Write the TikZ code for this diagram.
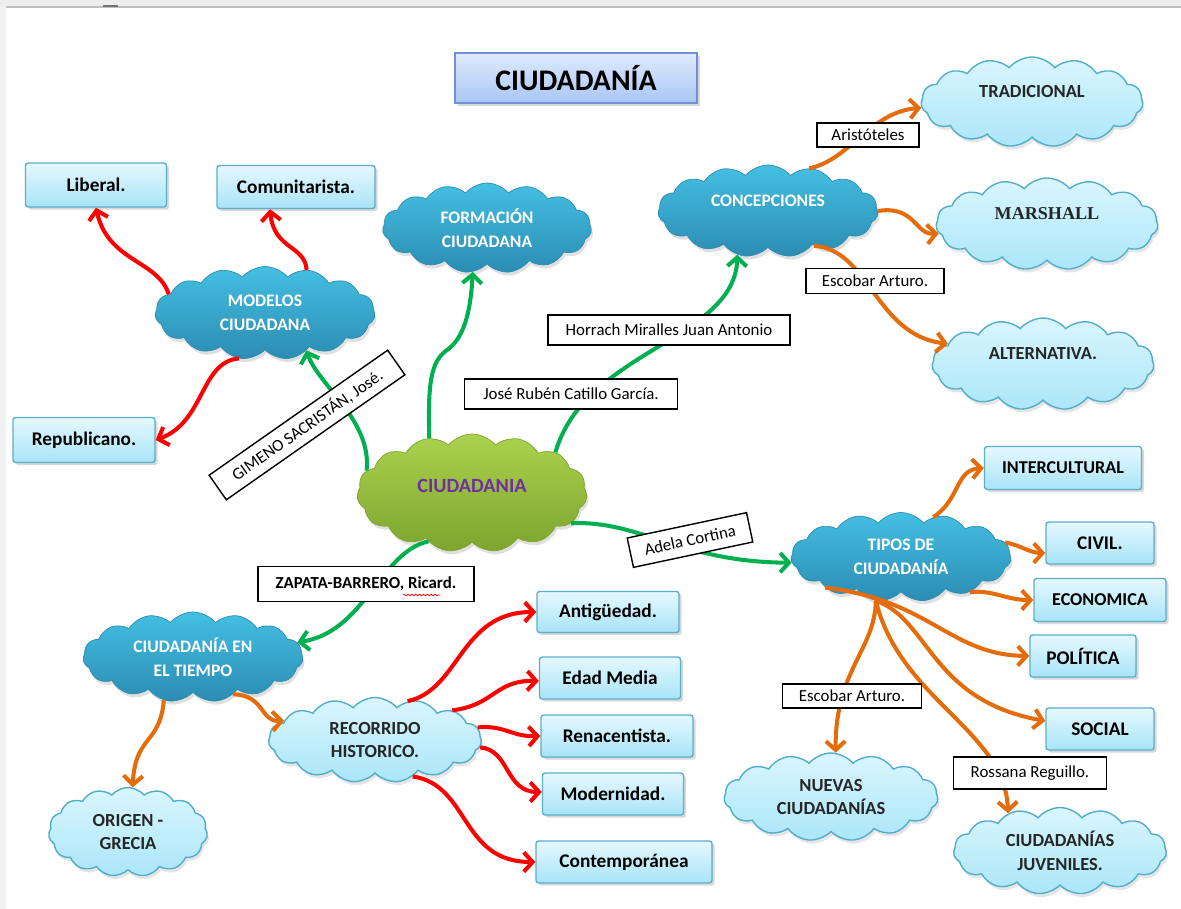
\documentclass[tikz,border=0pt]{standalone}
\usepackage{fontspec}
\setmainfont{Carlito}
\newfontfamily\serifb{Liberation Serif}
\usetikzlibrary{shapes.symbols,shadows,arrows.meta,calc,decorations.pathmorphing}
\definecolor{dcTop}{HTML}{44BFE2}
\definecolor{dcBot}{HTML}{2C8CB2}
\definecolor{lcTop}{HTML}{DAF6FE}
\definecolor{lcBot}{HTML}{ABE6F8}
\definecolor{lcDraw}{HTML}{52AECB}
\definecolor{rTop}{HTML}{E6F8FF}
\definecolor{rBot}{HTML}{A8E4F8}
\definecolor{rDraw}{HTML}{5AAFCB}
\definecolor{gTop}{HTML}{ABD24E}
\definecolor{gBot}{HTML}{7DA42E}
\definecolor{gText}{HTML}{7030A0}
\definecolor{tTop}{HTML}{DFEAFE}
\definecolor{tBot}{HTML}{A9C6F6}
\definecolor{tDraw}{HTML}{6F8FD6}
\definecolor{cGreen}{HTML}{00B050}
\definecolor{cRed}{HTML}{FF0000}
\definecolor{cOrange}{HTML}{E46C0A}
\begin{document}
\begin{tikzpicture}[x=0.02cm,y=-0.02cm,
  rectbox/.style={rectangle, rounded corners=1.5pt, draw=rDraw, line width=0.8pt,
    top color=rTop, bottom color=rBot, inner sep=0pt,
    font=\fontsize{11}{13}\selectfont\bfseries,
    drop shadow={shadow xshift=1.5pt, shadow yshift=-1.5pt, opacity=0.3}},
  cloudbase/.style={cloud, cloud puffs=15, cloud puff arc=100, cloud ignores aspect, inner sep=0pt,
    align=center},
  darkcloud/.style={cloudbase,
    top color=dcTop, bottom color=dcBot, draw=dcBot, line width=0.4pt,
    text=white, font=\fontsize{10}{13.5}\selectfont\bfseries,
    drop shadow={shadow xshift=1pt, shadow yshift=-2pt, opacity=0.25}},
  lightcloud/.style={cloudbase,
    top color=lcTop, bottom color=lcBot, draw=lcDraw, line width=0.8pt,
    text=black!85, font=\fontsize{10.5}{13.5}\selectfont\bfseries,
    drop shadow={shadow xshift=1pt, shadow yshift=-2pt, opacity=0.2}},
  greencloud/.style={cloudbase,
    top color=gTop, bottom color=gBot, draw=gBot, line width=0.4pt,
    text=gText, font=\fontsize{11.5}{13}\selectfont\bfseries,
    drop shadow={shadow xshift=1pt, shadow yshift=-2pt, opacity=0.25}},
  raisedtext/.style={text depth=12pt},
  labelbox/.style={rectangle, draw=black, line width=0.8pt, fill=white, inner sep=0pt,
    font=\fontsize{9.6}{11}\selectfont},
  conn/.style={line width=2.3pt, -{Straight Barb[length=5pt,width=11pt]}},
  gconn/.style={conn, draw=cGreen},
  rconn/.style={conn, draw=cRed},
  oconn/.style={conn, draw=cOrange}]
\useasboundingbox (0,0) rectangle (1181,909);
\fill[white] (0,0) rectangle (1181,909);
\fill[black!7] (0,0) rectangle (1181,7);
\fill[black!5] (0,7) rectangle (6,909);
\draw[black!25, line width=0.6pt] (6,7) -- (1181,7);
\fill[black!55] (103,5) rectangle (118,7);

% title
\node[rectangle, draw=tDraw, line width=0.8pt, top color=tTop, bottom color=tBot,
  minimum width=4.84cm, minimum height=1cm, font=\fontsize{17}{20}\selectfont\bfseries,
  drop shadow={shadow xshift=1.5pt, shadow yshift=-1.5pt, opacity=0.3}]
  (title) at (576,78) {CIUDADANÍA};

% clouds
\node[greencloud, minimum width=4.6cm, minimum height=2.36cm, text depth=8pt] (ciud) at (472,493) {CIUDADANIA};
\node[darkcloud, minimum width=4.4cm, minimum height=1.86cm] (modelos) at (265,313) {MODELOS\\CIUDADANA};
\node[darkcloud, minimum width=4.18cm, minimum height=1.8cm] (formacion) at (487,228) {FORMACIÓN\\CIUDADANA};
\node[darkcloud, raisedtext, minimum width=4.4cm, minimum height=1.84cm] (conc) at (768,211) {CONCEPCIONES};
\node[lightcloud, raisedtext, minimum width=4.44cm, minimum height=1.8cm] (trad) at (1032,102) {TRADICIONAL};
\node[lightcloud, raisedtext, minimum width=4.44cm, minimum height=1.84cm, font=\fontsize{10.3}{12}\selectfont\serifb\bfseries] (marshall) at (1047,224) {MARSHALL};
\node[lightcloud, raisedtext, minimum width=4.44cm, minimum height=1.84cm] (altern) at (1043,364) {ALTERNATIVA.};
\node[darkcloud, minimum width=4.4cm, minimum height=1.78cm] (tipos) at (901,557) {TIPOS DE\\CIUDADANÍA};
\node[lightcloud, minimum width=4.28cm, minimum height=1.76cm] (nuevas) at (831,797) {NUEVAS\\CIUDADANÍAS};
\node[lightcloud, minimum width=4.26cm, minimum height=1.74cm] (juven) at (1060,851) {CIUDADANÍAS\\JUVENILES.};
\node[darkcloud, minimum width=4.4cm, minimum height=1.8cm] (tiempo) at (193,657) {CIUDADANÍA EN\\EL TIEMPO};
\node[lightcloud, minimum width=3.18cm, minimum height=1.78cm] (origen) at (128,832) {ORIGEN -\\GRECIA};
\node[lightcloud, minimum width=4.26cm, minimum height=1.7cm] (recorrido) at (375,740) {RECORRIDO\\HISTORICO.};

% boxes
\node[rectbox, minimum width=2.82cm, minimum height=0.88cm] (liberal) at (96,185) {Liberal.};
\node[rectbox, minimum width=3.16cm, minimum height=0.86cm] (comunitarista) at (296,187) {Comunitarista.};
\node[rectbox, minimum width=2.84cm, minimum height=0.9cm] (republicano) at (84,440) {Republicano.};
\node[rectbox, minimum width=3.14cm, minimum height=0.86cm, font=\fontsize{10.3}{12}\selectfont\bfseries] (intercultural) at (1063,468) {INTERCULTURAL};
\node[rectbox, minimum width=2.16cm, minimum height=0.84cm] (civil) at (1100,543) {CIVIL.};
\node[rectbox, minimum width=2.64cm, minimum height=0.86cm, font=\fontsize{10.3}{12}\selectfont\bfseries] (economica) at (1100,600) {ECONOMICA};
\node[rectbox, minimum width=2.12cm, minimum height=0.84cm] (politica) at (1083,656) {POLÍTICA};
\node[rectbox, minimum width=2.16cm, minimum height=0.84cm] (social) at (1100,729) {SOCIAL};
\node[rectbox, minimum width=2.84cm, minimum height=0.82cm] (antig) at (608,612) {Antigüedad.};
\node[rectbox, minimum width=2.82cm, minimum height=0.84cm] (edad) at (610,678) {Edad Media};
\node[rectbox, minimum width=3.04cm, minimum height=0.84cm] (renac) at (617,736) {Renacentista.};
\node[rectbox, minimum width=2.82cm, minimum height=0.84cm] (modern) at (613,794) {Modernidad.};
\node[rectbox, minimum width=3.52cm, minimum height=0.84cm] (contemp) at (624,862) {Contemporánea};

% green connectors
\draw[gconn] (ciud.168) .. controls (372,420) and (318,385) .. (modelos.-42);
\draw[gconn] (ciud.128) .. controls (428,385) and (430,362) .. (447,350) .. controls (466,337) and (471,305) .. (formacion.-108);
\draw[gconn] (ciud.26) .. controls (585,350) and (735,340) .. (conc.-125);
\draw[gconn] (ciud.-17) .. controls (640,520) and (680,562) .. (tipos.183);
\draw[gconn] (ciud.-132) .. controls (380,552) and (365,632) .. (tiempo.8);

% red connectors
\draw[rconn] (modelos.169) .. controls (158,260) and (108,262) .. (liberal.south);
\draw[rconn] (modelos.46) .. controls (305,245) and (274,250) .. ($(comunitarista.south)+(-26,0)$);
\draw[rconn] (modelos.-120) .. controls (200,362) and (205,422) .. (republicano.east);
\draw[rconn] (recorrido.50) .. controls (460,690) and (460,612) .. (antig.west);
\draw[rconn] (recorrido.21) .. controls (495,705) and (495,680) .. ($(edad.west)+(0,3)$);
\draw[rconn] (recorrido.7) .. controls (505,725) and (512,737) .. (renac.west);
\draw[rconn] (recorrido.-4) .. controls (510,750) and (505,792) .. ($(modern.west)+(0,-2)$);
\draw[rconn] (recorrido.-44) .. controls (470,785) and (460,862) .. (contemp.west);

% orange connectors
\draw[oconn] (conc.46) .. controls (850,160) and (870,112) .. (trad.-177);
\draw[oconn] (conc.0) .. controls (915,205) and (915,235) .. (marshall.-175);
\draw[oconn] (conc.-37) .. controls (870,250) and (875,335) .. (altern.168);
\draw[oconn] (tipos.51) .. controls (960,500) and (955,470) .. (intercultural.west);
\draw[oconn] (tipos.8) .. controls (1020,545) and (1030,553) .. ($(civil.west)+(0,10)$);
\draw[oconn] (tipos.-27) .. controls (995,590) and (1005,600) .. (economica.west);
\draw[oconn] (tipos.-158) .. controls (930,600) and (950,655) .. (politica.west);
\draw[oconn] (tipos.-120) .. controls (930,620) and (930,700) .. ($(social.west)+(0,-8)$);
\draw[oconn] (tipos.-120) .. controls (875,650) and (835,670) .. (nuevas.84);
\draw[oconn] (tipos.-120) .. controls (900,700) and (1005,730) .. (juven.144);
\draw[oconn] (tiempo.-124) .. controls (160,745) and (135,735) .. (origen.84);
\draw[oconn] (tiempo.-43) .. controls (265,695) and (260,722) .. (recorrido.168);

% connector labels
\node[labelbox, minimum width=2.04cm, minimum height=0.48cm] (aristoteles) at (868,135) {Aristóteles};
\node[labelbox, minimum width=2.76cm, minimum height=0.5cm] (escobarA) at (875,281) {Escobar Arturo.};
\node[labelbox, minimum width=4.84cm, minimum height=0.6cm] (horrach) at (669,330) {Horrach Miralles Juan Antonio};
\node[labelbox, minimum width=4.26cm, minimum height=0.6cm] (jose) at (571,394) {José Rubén Catillo García.};
\node[labelbox, minimum width=4.36cm, minimum height=0.6cm, rotate=35] (gimeno) at (307,425) {GIMENO SACRISTÁN, José.};
\node[labelbox, minimum width=4.32cm, minimum height=0.7cm, font=\fontsize{9.6}{11}\selectfont\bfseries] (zapata) at (366,584) {ZAPATA-BARRERO, Ricard.};
\draw[cRed, line width=0.4pt, decorate, decoration={snake, segment length=2.2pt, amplitude=0.5pt}]
  ($(zapata.center)+(37,11)$) -- ($(zapata.center)+(74,11)$);
\node[labelbox, minimum width=2.44cm, minimum height=0.6cm, rotate=12] (adela) at (690,540) {Adela Cortina};
\node[labelbox, minimum width=2.78cm, minimum height=0.48cm] (escobarB) at (852,696) {Escobar Arturo.};
\node[labelbox, minimum width=3.06cm, minimum height=0.64cm] (rossana) at (1030,773) {Rossana Reguillo.};
\end{tikzpicture}
\end{document}
